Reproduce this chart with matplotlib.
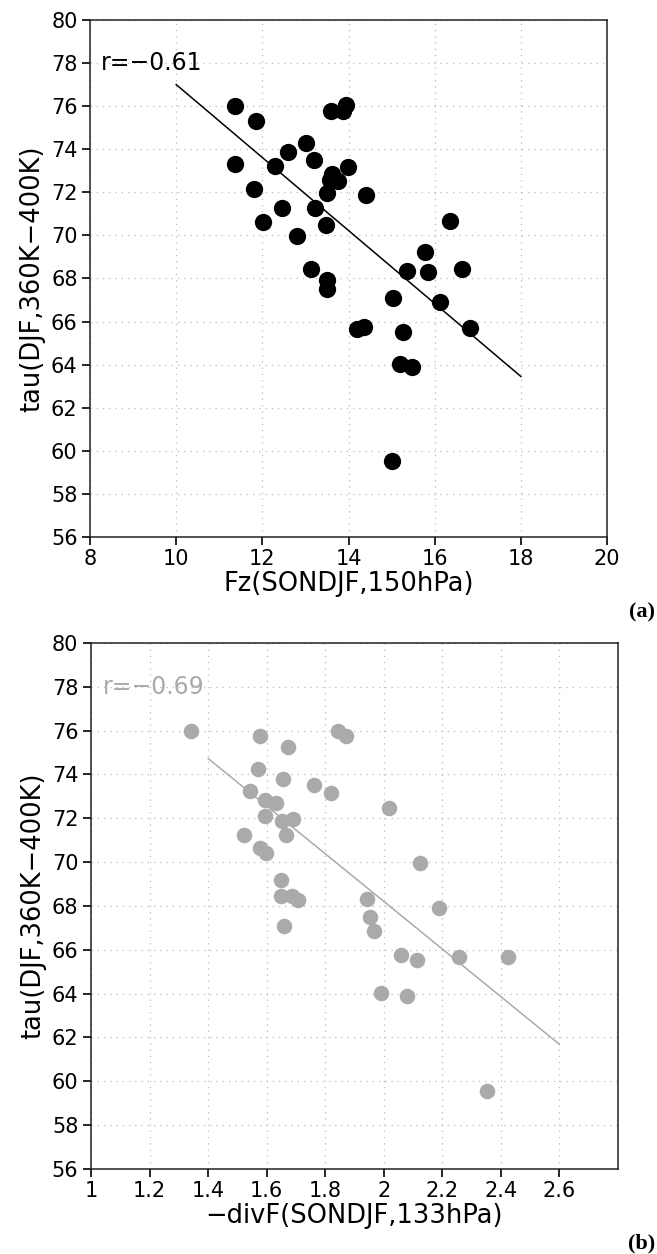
import numpy as np
import matplotlib
matplotlib.use("Agg")
import matplotlib.pyplot as plt

# panel (a): Fz vs tau
fz = [11.36, 11.85, 13.60, 13.87, 13.93, 13.02, 12.59, 11.36, 12.29, 13.20,
      13.61, 13.58, 13.76, 13.99, 13.51, 14.40, 11.81, 12.46, 13.23, 12.02,
      13.48, 12.81, 16.36, 15.77, 15.36, 15.85, 16.64, 13.12, 13.51, 13.51,
      15.04, 16.13, 14.20, 14.36, 15.27, 16.81, 15.19, 15.48, 15.02]
tau_a = [76.00, 75.29, 75.77, 75.77, 76.03, 74.30, 73.85, 73.31, 73.23, 73.51,
         72.85, 72.55, 72.52, 73.18, 71.98, 71.87, 72.15, 71.26, 71.26, 70.60,
         70.46, 69.98, 70.66, 69.22, 68.34, 68.32, 68.45, 68.46, 67.93, 67.52,
         67.10, 66.90, 65.64, 65.75, 65.52, 65.69, 64.05, 63.89, 59.54]
fit_a_x = [10.0, 18.0]
fit_a_y = [77.0, 63.45]

# panel (b): -divF vs tau
divf = [1.340, 1.579, 1.844, 1.872, 1.672, 1.570, 1.655, 1.762, 1.820, 1.542,
        1.593, 1.633, 1.593, 2.018, 1.654, 1.691, 1.667, 1.521, 1.576, 1.599,
        2.123, 1.650, 1.650, 1.688, 1.708, 1.943, 2.188, 1.954, 1.968, 1.660,
        2.060, 2.112, 2.258, 2.424, 1.990, 2.078, 2.354]
tau_b = [75.97, 75.76, 75.97, 75.74, 75.27, 74.25, 73.81, 73.50, 73.15, 73.25,
         72.84, 72.71, 72.10, 72.48, 71.86, 71.95, 71.25, 71.25, 70.64, 70.42,
         69.96, 69.19, 68.46, 68.44, 68.29, 68.32, 67.90, 67.50, 66.88, 67.09,
         65.74, 65.53, 65.67, 65.65, 64.05, 63.90, 59.58]
fit_b_x = [1.4, 2.6]
fit_b_y = [74.73, 61.69]

y_ticks = np.arange(56, 81, 2)
xa_ticks = np.arange(8, 21, 2)
xb_ticks = [1, 1.2, 1.4, 1.6, 1.8, 2, 2.2, 2.4, 2.6]
xb_labels = ["1", "1.2", "1.4", "1.6", "1.8", "2", "2.2", "2.4", "2.6"]

plt.rcParams['font.family'] = ['DejaVu Sans']
fs = 15      # tick labels
fl = 18.5    # axis labels
grey = '#aaaaaa'

fig = plt.figure(figsize=(6.57, 12.54), dpi=100)
ax1 = fig.add_axes([0.137, 0.5718, 0.787, 0.4123])
ax2 = fig.add_axes([0.1385, 0.0678, 0.802, 0.4195])


def style(ax, xticks, xlabels, xlim, xlabel):
    ax.set_ylim(56, 80)
    ax.set_xlim(*xlim)
    ax.set_yticks(y_ticks)
    ax.set_xticks(xticks)
    ax.set_xticklabels(xlabels)
    ax.tick_params(direction='out', length=6, width=1.2, labelsize=fs, pad=3,
                   top=False, right=False)
    ax.grid(True, linestyle=(0, (1, 4)), color='#bbbbbb', linewidth=0.9)
    ax.set_axisbelow(True)
    for s in ax.spines.values():
        s.set_linewidth(1.1)
        s.set_color('#222222')
    ax.set_xlabel(xlabel, fontsize=fl, labelpad=1)
    ax.set_ylabel('tau(DJF,360K\u2212400K)', fontsize=fl, labelpad=4)


style(ax1, xa_ticks, [str(t) for t in xa_ticks], (8, 20), 'Fz(SONDJF,150hPa)')
ax1.scatter(fz, tau_a, s=155, color='black', zorder=3, linewidths=0)
ax1.plot(fit_a_x, fit_a_y, color='black', linewidth=1.1, zorder=2)
ax1.text(8.25, 78, 'r=\u22120.61', fontsize=17, va='center', ha='left')

style(ax2, xb_ticks, xb_labels, (1, 2.8), '\u2212divF(SONDJF,133hPa)')
ax2.scatter(divf, tau_b, s=125, color=grey, zorder=3, linewidths=0)
ax2.plot(fit_b_x, fit_b_y, color=grey, linewidth=1.1, zorder=2)
ax2.text(1.04, 78, 'r=\u22120.69', fontsize=17, va='center', ha='left', color=grey)

fig.text(0.997, 1 - 612 / 1254, '(a)', fontsize=16, fontweight='bold',
         family=['Liberation Serif', 'DejaVu Serif'], ha='right', va='center')
fig.text(0.997, 1 - 1243 / 1254, '(b)', fontsize=16, fontweight='bold',
         family=['Liberation Serif', 'DejaVu Serif'], ha='right', va='center')

fig.savefig('out.png', dpi=100)
